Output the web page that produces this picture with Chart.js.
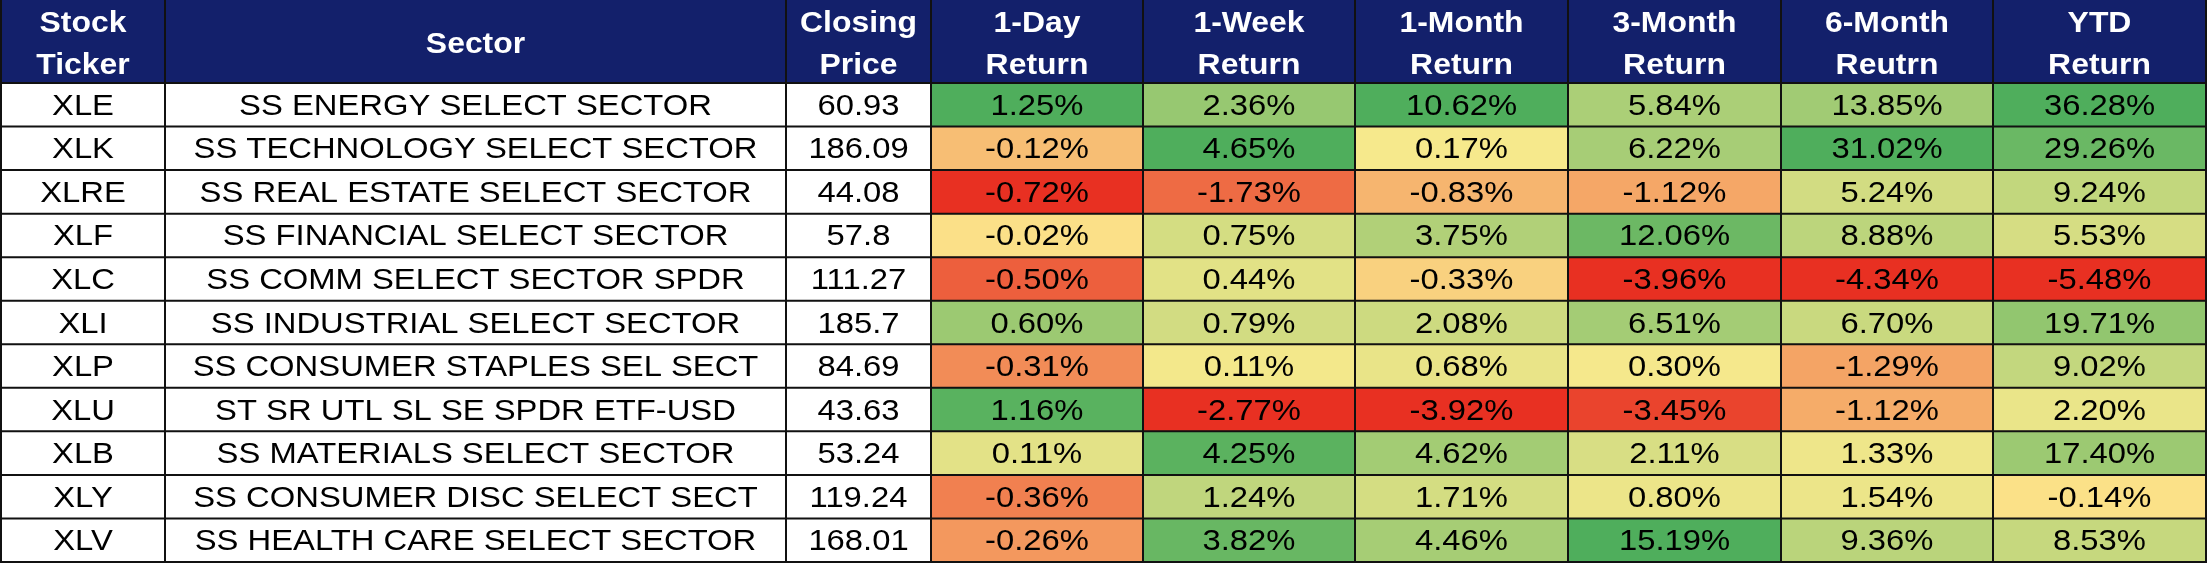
<!DOCTYPE html>
<html>
<head>
<meta charset="utf-8">
<script src="https://cdn.jsdelivr.net/npm/chart.js@4/dist/chart.umd.min.js"></script>
<style>
  html, body { margin: 0; padding: 0; background: #ffffff; }
  #wrap { width: 2212px; height: 566px; }
</style>
</head>
<body>
<div id="wrap"><canvas id="sectorTable" width="2212" height="566"></canvas></div>
<script>
// table data
const headers = [
    ["Stock", "Ticker"], ["Sector"], ["Closing", "Price"],
    ["1-Day", "Return"], ["1-Week", "Return"], ["1-Month", "Return"],
    ["3-Month", "Return"], ["6-Month", "Reutrn"], ["YTD", "Return"]
];
const tickers = ["XLE", "XLK", "XLRE", "XLF", "XLC", "XLI", "XLP", "XLU", "XLB", "XLY", "XLV"];
const sectors = [
    "SS ENERGY SELECT SECTOR",
    "SS TECHNOLOGY SELECT SECTOR",
    "SS REAL ESTATE SELECT SECTOR",
    "SS FINANCIAL SELECT SECTOR",
    "SS COMM SELECT SECTOR SPDR",
    "SS INDUSTRIAL SELECT SECTOR",
    "SS CONSUMER STAPLES SEL SECT",
    "ST SR UTL SL SE SPDR ETF-USD",
    "SS MATERIALS SELECT SECTOR",
    "SS CONSUMER DISC SELECT SECT",
    "SS HEALTH CARE SELECT SECTOR"
];
const closingPrice = [60.93, 186.09, 44.08, 57.8, 111.27, 185.7, 84.69, 43.63, 53.24, 119.24, 168.01];
const ret1Day   = [1.25, -0.12, -0.72, -0.02, -0.50, 0.60, -0.31, 1.16, 0.11, -0.36, -0.26];
const ret1Week  = [2.36, 4.65, -1.73, 0.75, 0.44, 0.79, 0.11, -2.77, 4.25, 1.24, 3.82];
const ret1Month = [10.62, 0.17, -0.83, 3.75, -0.33, 2.08, 0.68, -3.92, 4.62, 1.71, 4.46];
const ret3Month = [5.84, 6.22, -1.12, 12.06, -3.96, 6.51, 0.30, -3.45, 2.11, 0.80, 15.19];
const ret6Month = [13.85, 31.02, 5.24, 8.88, -4.34, 6.70, -1.29, -1.12, 1.33, 1.54, 9.36];
const retYTD    = [36.28, 29.26, 9.24, 5.53, -5.48, 19.71, 9.02, 2.20, 17.40, -0.14, 8.53];

// layout
const colWidths = [164, 621, 145, 212, 212, 213, 213, 212, 213];
const HEADER_H = 83;
const NAVY = "#13206b";
const LINE = "#111111";
const FONT = "'Liberation Sans', Arial, sans-serif";
const RED = [232, 48, 34], YELLOW = [252, 235, 142], GREEN = [79, 174, 92];

const edges = [0];
colWidths.forEach(w => edges.push(edges[edges.length - 1] + w));

function mix(a, b, t) {
    t = Math.pow(t, 0.8);
    return "rgb(" + a.map((v, i) => Math.round(v + (b[i] - v) * t)).join(",") + ")";
}
// 3 colour scale per column, midpoint at 0
function heatColors(values) {
    const lo = Math.min(...values), hi = Math.max(...values);
    return values.map(v => v >= 0 ? mix(YELLOW, GREEN, v / hi) : mix(YELLOW, RED, v / lo));
}

const columns = [
    { text: tickers, fill: tickers.map(() => "#ffffff") },
    { text: sectors, fill: sectors.map(() => "#ffffff") },
    { text: closingPrice.map(String), fill: closingPrice.map(() => "#ffffff") }
];
[ret1Day, ret1Week, ret1Month, ret3Month, ret6Month, retYTD].forEach(vals => {
    columns.push({ text: vals.map(v => v.toFixed(2) + "%"), fill: heatColors(vals) });
});

function stretchText(ctx, str, x, y, sx) {
    ctx.save();
    ctx.translate(x, y);
    ctx.scale(sx, 1);
    ctx.fillText(str, 0, 0);
    ctx.restore();
}

const tablePlugin = {
    id: "tablePlugin",
    afterDatasetsDraw(chart) {
        const ctx = chart.ctx;
        const xs = chart.scales.x, ys = chart.scales.y;
        const area = chart.chartArea;
        const xPix = edges.map(e => xs.getPixelForValue(e));
        const rowH = (area.bottom - area.top) / tickers.length;

        // cell text
        ctx.fillStyle = "#000000";
        ctx.font = "29px " + FONT;
        ctx.textAlign = "center";
        ctx.textBaseline = "alphabetic";
        columns.forEach((col, c) => {
            const cx = (xPix[c] + xPix[c + 1]) / 2;
            col.text.forEach((t, r) => {
                stretchText(ctx, t, cx, ys.getPixelForValue(r) + 10, 1.13);
            });
        });

        // header
        ctx.fillStyle = NAVY;
        ctx.fillRect(xPix[0], 0, xPix[xPix.length - 1] - xPix[0], area.top);
        ctx.fillStyle = "#ffffff";
        ctx.font = "bold 29px " + FONT;
        headers.forEach((lines, c) => {
            const cx = (xPix[c] + xPix[c + 1]) / 2;
            if (lines.length === 1) {
                stretchText(ctx, lines[0], cx, area.top / 2 + 11, 1.1);
            } else {
                stretchText(ctx, lines[0], cx, 32, 1.1);
                stretchText(ctx, lines[1], cx, 74, 1.1);
            }
        });

        // grid lines
        ctx.strokeStyle = LINE;
        ctx.lineWidth = 2;
        ctx.beginPath();
        xPix.forEach(x => { ctx.moveTo(x, 0); ctx.lineTo(x, area.bottom + 1); });
        for (let r = 0; r <= tickers.length; r++) {
            const y = area.top + r * rowH;
            ctx.moveTo(xPix[0] - 1, y);
            ctx.lineTo(xPix[xPix.length - 1] + 1, y);
        }
        ctx.stroke();
    }
};

new Chart(
    document.getElementById("sectorTable"),
    {
        type: "bar",
        data: {
            labels: tickers,
            datasets: columns.map((col, c) => ({
                label: headers[c].join(" "),
                data: tickers.map(() => [edges[c], edges[c + 1]]),
                backgroundColor: col.fill,
                borderWidth: 0,
                grouped: false,
                barPercentage: 1,
                categoryPercentage: 1
            }))
        },
        options: {
            indexAxis: "y",
            responsive: false,
            animation: false,
            layout: { padding: { top: HEADER_H, bottom: 4, left: 1, right: 6 } },
            plugins: { legend: { display: false }, tooltip: { enabled: false } },
            scales: {
                x: { type: "linear", min: 0, max: edges[edges.length - 1], display: false },
                y: { type: "category", display: false }
            }
        },
        plugins: [tablePlugin]
    }
);
</script>
</body>
</html>
